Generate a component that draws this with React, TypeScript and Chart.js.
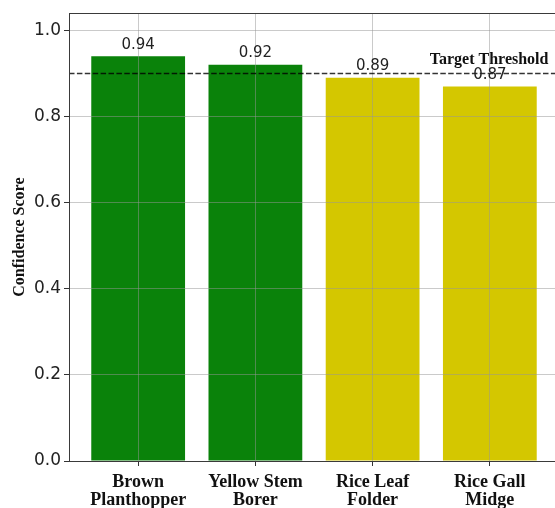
import React, { useEffect, useRef } from "react";
import { Chart, registerables } from "chart.js";

Chart.register(...registerables);

const categoryLines: string[][] = [
  ["Brown", "Planthopper"],
  ["Yellow Stem", "Borer"],
  ["Rice Leaf", "Folder"],
  ["Rice Gall", "Midge"],
];
const scores: number[] = [0.94, 0.92, 0.89, 0.87];
const barColors: string[] = ["#0a820a", "#0a820a", "#d4c700", "#d4c700"];
const yTicks: number[] = [0.0, 0.2, 0.4, 0.6, 0.8, 1.0];
const threshold = 0.9;
const thresholdLabel = "Target Threshold";
const yTitle = "Confidence Score";

const overlayPlugin = {
  id: "overlay",
  afterDraw(chart: any) {
    const { ctx, chartArea, scales } = chart;
    const xs = scales.x;
    const ys = scales.y;
    ctx.save();
    // threshold line
    const ty = ys.getPixelForValue(threshold);
    ctx.strokeStyle = "rgba(0,0,0,0.8)";
    ctx.lineWidth = 1.6;
    ctx.setLineDash([5.5, 2.4]);
    ctx.beginPath();
    ctx.moveTo(chartArea.left, ty);
    ctx.lineTo(chartArea.right, ty);
    ctx.stroke();
    ctx.setLineDash([]);
    // threshold label
    ctx.fillStyle = "#111";
    ctx.font = 'bold 16px "Liberation Serif"';
    ctx.textAlign = "right";
    ctx.textBaseline = "bottom";
    ctx.fillText(thresholdLabel, xs.getPixelForValue(3.5), ys.getPixelForValue(threshold + 0.012));
    // value labels
    ctx.font = '15px "DejaVu Sans"';
    ctx.textAlign = "center";
    ctx.fillStyle = "#222";
    scores.forEach((v, i) => {
      ctx.fillText(v.toFixed(2), xs.getPixelForValue(i), ys.getPixelForValue(v) - 4);
    });
    // frame
    ctx.strokeStyle = "#3a3a3a";
    ctx.lineWidth = 1;
    ctx.strokeRect(
      Math.round(chartArea.left) + 0.5,
      Math.round(chartArea.top) + 0.5,
      Math.round(chartArea.right - chartArea.left),
      Math.round(chartArea.bottom - chartArea.top)
    );
    ctx.restore();
  },
};

export default function App() {
  const ref = useRef<HTMLCanvasElement | null>(null);
  useEffect(() => {
    if (!ref.current) return;
    const chart = new Chart(ref.current, {
      type: "bar",
      data: {
        datasets: [
          {
            data: scores.map((v, i) => ({ x: i, y: v })),
            backgroundColor: barColors,
            borderWidth: 0,
            barPercentage: 0.8,
            categoryPercentage: 1.0,
          },
        ],
      },
      options: {
        responsive: false,
        animation: false,
        devicePixelRatio: 1,
        layout: { padding: { top: 13, right: 11, left: 0, bottom: 0 } },
        plugins: { legend: { display: false }, tooltip: { enabled: false } },
        scales: {
          x: {
            type: "linear",
            min: -0.59,
            max: 3.59,
            offset: false,
            afterBuildTicks: (scale: any) => {
              scale.ticks = categoryLines.map((_, i) => ({ value: i }));
            },
            afterFit: (scale: any) => {
              scale.height = 47;
            },
            ticks: {
              autoSkip: false,
              maxRotation: 0,
              padding: 7,
              color: "#111",
              font: { family: "Liberation Serif", size: 18, weight: "bold", lineHeight: 1.0 },
              callback: (value: any) => categoryLines[Math.round(Number(value))] || "",
            },
            grid: {
              offset: false,
              z: 1,
              color: "rgba(150,150,150,0.5)",
              lineWidth: 1,
              tickColor: "#333",
              tickLength: 5,
              drawTicks: true,
            },
            border: { display: false },
          },
          y: {
            min: 0,
            max: 1.04,
            afterBuildTicks: (scale: any) => {
              scale.ticks = yTicks.map((v) => ({ value: v }));
            },
            afterFit: (scale: any) => {
              scale.width = 69;
            },
            ticks: {
              padding: 3,
              color: "#222",
              font: { family: "DejaVu Sans", size: 17 },
              callback: (value: any) => Number(value).toFixed(1),
            },
            grid: {
              z: 1,
              color: "rgba(150,150,150,0.5)",
              lineWidth: 1,
              tickColor: "#333",
              tickLength: 5,
            },
            border: { display: false },
            title: {
              display: true,
              text: yTitle,
              color: "#111",
              font: { family: "Liberation Serif", size: 16, weight: "bold" },
              padding: { top: 10, bottom: 0 },
            },
          },
        },
      },
      plugins: [overlayPlugin],
    } as any);
    return () => chart.destroy();
  }, []);
  return (
    <div
      style={{
        position: "fixed",
        left: 0,
        top: 0,
        width: 555,
        height: 508,
        overflow: "hidden",
        background: "#fff",
      }}
    >
      <canvas ref={ref} width={570} height={508} style={{ display: "block" }} />
    </div>
  );
}
